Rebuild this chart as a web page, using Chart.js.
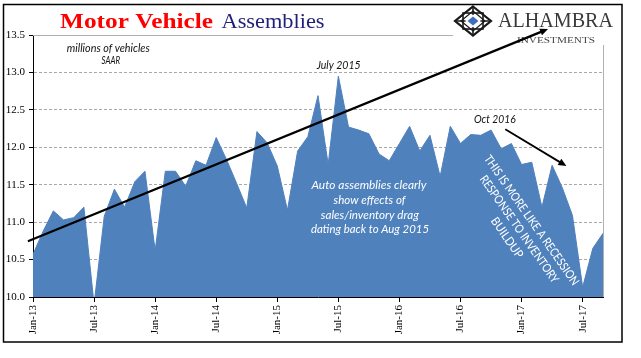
<!DOCTYPE html>
<html><head><meta charset="utf-8">
<script src="https://cdn.jsdelivr.net/npm/chart.js@4.4.1/dist/chart.umd.min.js"></script>
<style>html,body{margin:0;padding:0;background:#fff}canvas{display:block}</style>
</head><body>
<canvas id="c" width="641" height="358"></canvas>
<script>
// ---- data ----
const monthNames = ['Jan','Feb','Mar','Apr','May','Jun','Jul','Aug','Sep','Oct','Nov','Dec'];
const yearSuffixes = ['13','14','15','16','17'];
const categories = [];
for (const y of yearSuffixes) for (const m of monthNames) categories.push(m + '-' + y);
categories.length = 57; // Jan-13 .. Sep-17

const assemblies = [
  10.57, 10.88, 11.15, 11.03, 11.06, 11.20, 9.90, 11.08, 11.44, 11.20, 11.54, 11.68,
  10.62, 11.68, 11.68, 11.48, 11.82, 11.76, 12.13, 11.84, 11.52, 11.19, 12.21, 12.06,
  11.75, 11.16, 11.95, 12.14, 12.69, 11.77, 12.95, 12.27, 12.23, 12.18, 11.91, 11.82,
  12.05, 12.28, 11.95, 12.16, 11.61, 12.28, 12.05, 12.17, 12.16, 12.23, 11.98, 12.05,
  11.77, 11.80, 11.20, 11.76, 11.46, 11.09, 10.13, 10.65, 10.85
];
const yTicks = [10.0, 10.5, 11.0, 11.5, 12.0, 12.5, 13.0, 13.5];
// annotation arrows in data units (category index, value)
const trendLine = [{x: -0.5, y: 10.745}, {x: 50.6, y: 13.58}];
const octArrow = [{x: 46.4, y: 12.24}, {x: 52.4, y: 11.75}];

// ---- helpers ----
function fitText(ctx, text, x, y, font, color, width, align, baseline, angle) {
  ctx.save();
  ctx.font = font; ctx.fillStyle = color;
  ctx.textAlign = align || 'center'; ctx.textBaseline = baseline || 'middle';
  ctx.translate(x, y);
  if (angle) ctx.rotate(angle * Math.PI / 180);
  if (width) { const w = ctx.measureText(text).width; if (w > 0) ctx.scale(width / w, 1); }
  ctx.fillText(text, 0, 0);
  ctx.restore();
}
function arrow(ctx, x1, y1, x2, y2, lw, head) {
  const a = Math.atan2(y2 - y1, x2 - x1), c = Math.cos(a), s = Math.sin(a);
  ctx.save();
  ctx.strokeStyle = '#000'; ctx.fillStyle = '#000'; ctx.lineWidth = lw; ctx.lineCap = 'butt';
  ctx.beginPath(); ctx.moveTo(x1, y1); ctx.lineTo(x2 - c * head * 0.7, y2 - s * head * 0.7); ctx.stroke();
  ctx.beginPath(); ctx.moveTo(x2, y2);
  ctx.lineTo(x2 - head * c + head * 0.45 * s, y2 - head * s - head * 0.45 * c);
  ctx.lineTo(x2 - head * c - head * 0.45 * s, y2 - head * s + head * 0.45 * c);
  ctx.closePath(); ctx.fill();
  ctx.restore();
}
function drawLogo(ctx, cx, cy) {
  ctx.save();
  const hw = 18, hh = 14.5;
  ctx.strokeStyle = '#1a1a1a'; ctx.lineWidth = 2.2;
  ctx.beginPath();
  ctx.moveTo(cx, cy - hh); ctx.lineTo(cx + hw, cy); ctx.lineTo(cx, cy + hh); ctx.lineTo(cx - hw, cy); ctx.closePath();
  ctx.stroke();
  ctx.lineWidth = 1.6;
  ctx.strokeRect(cx - 10, cy - 8, 20, 16);
  ctx.beginPath();
  ctx.moveTo(cx, cy - hh); ctx.lineTo(cx, cy + hh);
  ctx.moveTo(cx - hw, cy); ctx.lineTo(cx + hw, cy);
  ctx.stroke();
  ctx.lineWidth = 1.2;
  ctx.beginPath();
  ctx.moveTo(cx, cy - 10); ctx.lineTo(cx + 12, cy); ctx.lineTo(cx, cy + 10); ctx.lineTo(cx - 12, cy); ctx.closePath();
  ctx.stroke();
  ctx.fillStyle = '#fff';
  ctx.beginPath();
  ctx.moveTo(cx, cy - 6.5); ctx.lineTo(cx + 8, cy); ctx.lineTo(cx, cy + 6.5); ctx.lineTo(cx - 8, cy); ctx.closePath();
  ctx.fill();
  ctx.fillStyle = '#3d6fc0';
  ctx.beginPath();
  ctx.moveTo(cx, cy - 4.5); ctx.lineTo(cx + 5.5, cy); ctx.lineTo(cx, cy + 4.5); ctx.lineTo(cx - 5.5, cy); ctx.closePath();
  ctx.fill();
  ctx.restore();
}

const decorPlugin = {
  id: 'decor',
  beforeDatasetsDraw(chart) {
    const {ctx, chartArea: a} = chart;
    ctx.save();
    ctx.strokeStyle = '#b0b0b0'; ctx.lineWidth = 1;
    ctx.beginPath(); ctx.moveTo(a.right + 0.5, a.top); ctx.lineTo(a.right + 0.5, a.bottom); ctx.stroke();
    ctx.beginPath(); ctx.moveTo(a.left, a.top + 0.5); ctx.lineTo(a.right, a.top + 0.5); ctx.stroke();
    ctx.restore();
  },
  afterDraw(chart) {
    const {ctx, scales: {x, y}} = chart;
    // logo background box
    ctx.save(); ctx.fillStyle = '#fff'; ctx.fillRect(453, 5, 168, 40); ctx.restore();
    drawLogo(ctx, 473, 21);
    fitText(ctx, 'ALHAMBRA', 498, 27, '20px "Liberation Serif"', '#3a3a3a', 115, 'left', 'alphabetic');
    fitText(ctx, 'INVESTMENTS', 517, 42.5, '9px "Liberation Serif"', '#444', 78, 'left', 'alphabetic');
    // title
    fitText(ctx, 'Motor Vehicle', 60, 28, 'bold 22px "Liberation Serif"', '#ff0000', 153, 'left', 'alphabetic');
    fitText(ctx, 'Assemblies', 221.5, 28, '22px "Liberation Serif"', '#1f1f7a', 103, 'left', 'alphabetic');
    // arrows
    const P = p => [x.getPixelForValue(p.x), y.getPixelForValue(p.y)];
    const [t1x, t1y] = P(trendLine[0]), [t2x, t2y] = P(trendLine[1]);
    arrow(ctx, t1x, t1y, t2x, t2y, 2.2, 8);
    const [o1x, o1y] = P(octArrow[0]), [o2x, o2y] = P(octArrow[1]);
    arrow(ctx, o1x, o1y, o2x, o2y, 1.8, 8);
    // annotations
    const it = 'italic 11px Lato, "Open Sans", sans-serif';
    fitText(ctx, 'millions of vehicles', 108.3, 48, it, '#111', 83);
    fitText(ctx, 'SAAR', 110.8, 60.7, it, '#111', 18.5);
    fitText(ctx, 'July 2015', 338.7, 65.7, it, '#111', 44);
    fitText(ctx, 'Oct 2016', 494.8, 119, it, '#111', 41.7);
    const wt = 'italic 12px Lato, "Open Sans", sans-serif';
    fitText(ctx, 'Auto assemblies clearly', 369, 185, wt, '#fff', 115);
    fitText(ctx, 'show effects of', 369.5, 200, wt, '#fff', 72);
    fitText(ctx, 'sales/inventory drag', 369.8, 215, wt, '#fff', 98);
    fitText(ctx, 'dating back to Aug 2015', 370, 229.5, wt, '#fff', 118);
    const rt = '12px Lato, "Open Sans", sans-serif';
    fitText(ctx, 'THIS IS MORE LIKE A RECESSION', 531.5, 220.3, rt, '#fff', 156, 'center', 'middle', 55);
    fitText(ctx, 'RESPONSE TO INVENTORY', 519.2, 229.2, rt, '#fff', 128, 'center', 'middle', 55);
    fitText(ctx, 'BUILDUP', 507, 237.8, rt, '#fff', 47, 'center', 'middle', 55);
    // outer frame
    ctx.save(); ctx.strokeStyle = '#000'; ctx.lineWidth = 1.5;
    ctx.strokeRect(3.5, 4.5, 618.5, 337.5); ctx.restore();
  }
};

new Chart(document.getElementById('c'), {
  type: 'line',
  data: {
    labels: categories,
    datasets: [{
      data: assemblies,
      fill: 'start',
      backgroundColor: '#4f81bd',
      borderColor: '#4f81bd',
      borderWidth: 1,
      pointRadius: 0,
      tension: 0
    }]
  },
  options: {
    responsive: false,
    animation: false,
    devicePixelRatio: 1,
    layout: {padding: {left: 0, right: 38, top: 35, bottom: 0}},
    plugins: {legend: {display: false}, tooltip: {enabled: false}, title: {display: false}},
    scales: {
      x: {
        type: 'category',
        offset: false,
        afterFit: s => { s.height = 61; },
        grid: {
          drawOnChartArea: false,
          tickLength: 5,
          tickColor: c => (c.index % 6 === 0 ? '#000' : 'rgba(0,0,0,0)')
        },
        border: {color: '#000', width: 1},
        ticks: {
          autoSkip: false,
          minRotation: 90,
          maxRotation: 90,
          padding: 3,
          color: '#000',
          font: {family: '"Liberation Serif"', size: 11},
          callback: function (v, i) { return i % 6 === 0 ? this.getLabelForValue(v) : ''; }
        }
      },
      y: {
        min: 10,
        max: 13.5,
        afterFit: s => { s.width = 33; },
        afterBuildTicks: s => { s.ticks = yTicks.map(v => ({value: v})); },
        grid: {color: '#a8a8a8', tickColor: '#000', tickLength: 4, lineWidth: 1},
        border: {color: '#000', width: 1, dash: [3, 2]},
        ticks: {
          color: '#000',
          padding: 4,
          font: {family: '"Liberation Serif"', size: 11},
          callback: v => Number(v).toFixed(1)
        }
      }
    }
  },
  plugins: [decorPlugin]
});
</script>
</body></html>
